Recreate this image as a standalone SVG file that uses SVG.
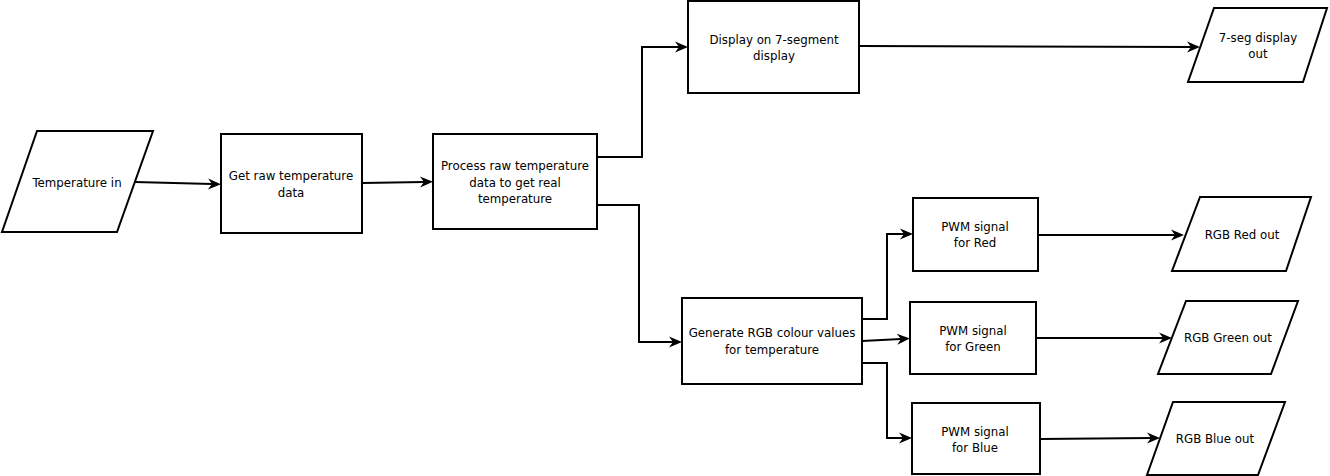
<svg xmlns="http://www.w3.org/2000/svg" width="1330" height="476" viewBox="0 0 1330 476">
<style>
.box{fill:#fff;stroke:#000;stroke-width:2}
.t{font-family:"DejaVu Sans",Verdana,sans-serif;font-size:11.8px;fill:#000;text-anchor:middle}
.c{fill:none;stroke:#000;stroke-width:2}
</style>
<defs>
<marker id="a" markerUnits="userSpaceOnUse" markerWidth="14" markerHeight="12" refX="4" refY="5.5" orient="auto" overflow="visible">
<path d="M0,0 L13,5.5 L0,11 L4,5.5 Z" fill="#000"/>
</marker>
</defs>
<rect width="1330" height="476" fill="#fff"/>
<g id="connectors">
<path class="c" d="M135,182 L212,184" marker-end="url(#a)"/>
<path class="c" d="M362,183 L424,182" marker-end="url(#a)"/>
<path class="c" d="M597,157 L642,157 L642,47 L679,47" marker-end="url(#a)"/>
<path class="c" d="M860,46 L1191,47" marker-end="url(#a)"/>
<path class="c" d="M597,205 L639,205 L639,342 L673,342" marker-end="url(#a)"/>
<path class="c" d="M862,319 L887,319 L887,234 L904,234" marker-end="url(#a)"/>
<path class="c" d="M862,341 L901,339" marker-end="url(#a)"/>
<path class="c" d="M862,363 L887,363 L887,438 L903,438" marker-end="url(#a)"/>
<path class="c" d="M1038,235 L1175,235" marker-end="url(#a)"/>
<path class="c" d="M1036,338 L1163,338" marker-end="url(#a)"/>
<path class="c" d="M1040,439 L1151,438" marker-end="url(#a)"/>
</g>
<g id="temperature-in">
<path class="box" d="M37,131 L153,131 L117,232 L2,232 Z"/>
<text class="t" x="77" y="187">Temperature in</text>
</g>
<g id="get-raw">
<rect class="box" x="221" y="134" width="141" height="99"/>
<text class="t" x="291" y="180">Get raw temperature</text>
<text class="t" x="291" y="197">data</text>
</g>
<g id="process">
<rect class="box" x="433" y="134" width="164" height="95"/>
<text class="t" x="515" y="170">Process raw temperature</text>
<text class="t" x="515" y="187">data to get real</text>
<text class="t" x="515" y="203">temperature</text>
</g>
<g id="display">
<rect class="box" x="688" y="1" width="171" height="92"/>
<text class="t" x="774" y="44">Display on 7-segment</text>
<text class="t" x="774" y="60">display</text>
</g>
<g id="seg-out">
<path class="box" d="M1214,8 L1327,8 L1303,82 L1188,82 Z"/>
<text class="t" x="1258" y="42">7-seg display</text>
<text class="t" x="1258" y="58">out</text>
</g>
<g id="generate">
<rect class="box" x="682" y="298" width="180" height="86"/>
<text class="t" x="772" y="337">Generate RGB colour values</text>
<text class="t" x="772" y="354">for temperature</text>
</g>
<g id="pwm-red">
<rect class="box" x="913" y="198" width="125" height="73"/>
<text class="t" x="975" y="231">PWM signal</text>
<text class="t" x="975" y="247">for Red</text>
</g>
<g id="pwm-green">
<rect class="box" x="910" y="302" width="126" height="72"/>
<text class="t" x="973" y="335">PWM signal</text>
<text class="t" x="973" y="351">for Green</text>
</g>
<g id="pwm-blue">
<rect class="box" x="912" y="403" width="128" height="71"/>
<text class="t" x="975" y="436">PWM signal</text>
<text class="t" x="975" y="452">for Blue</text>
</g>
<g id="rgb-red-out">
<path class="box" d="M1200,197 L1311,197 L1286,271 L1172,271 Z"/>
<text class="t" x="1242" y="239">RGB Red out</text>
</g>
<g id="rgb-green-out">
<path class="box" d="M1186,301 L1298,301 L1271,374 L1158,374 Z"/>
<text class="t" x="1228" y="342">RGB Green out</text>
</g>
<g id="rgb-blue-out">
<path class="box" d="M1173,402 L1285,402 L1258,475 L1147,475 Z"/>
<text class="t" x="1215" y="443">RGB Blue out</text>
</g>
</svg>
